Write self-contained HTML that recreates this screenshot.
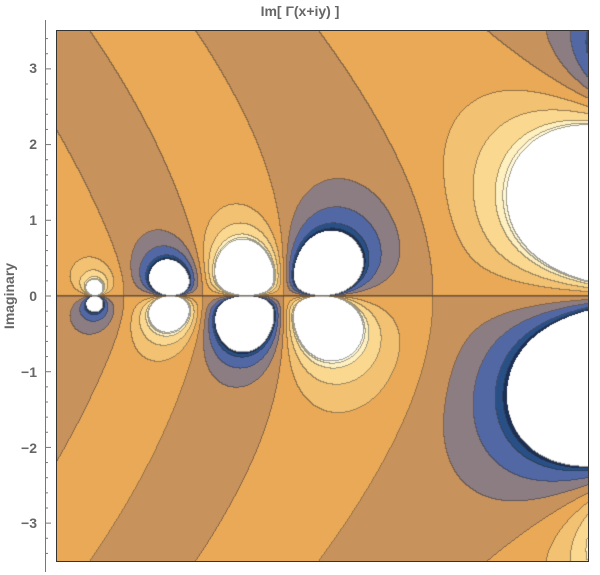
<!DOCTYPE html>
<html><head><meta charset="utf-8"><style>
body{margin:0;background:#fff;width:600px;height:575px;overflow:hidden;font-family:"Liberation Sans",sans-serif}
#c{position:absolute;left:57px;top:31px}
</style></head><body>
<canvas id="c" width="531" height="530"></canvas>
<svg width="600" height="575" style="position:absolute;left:0;top:0">
<rect x="56.5" y="30.5" width="532" height="531" fill="none" stroke="#333" stroke-width="1"/>
<line x1="45.5" y1="20" x2="45.5" y2="572" stroke="#777"/>
<g id="ticks" stroke="#777"></g>
<g fill="#666" font-size="14" font-weight="bold" font-family="Liberation Sans,sans-serif" text-anchor="end">
<text x="37" y="73">3</text><text x="37" y="149">2</text><text x="37" y="225">1</text><text x="37" y="301">0</text>
<text x="37" y="377">−1</text><text x="37" y="453">−2</text><text x="37" y="528">−3</text>
</g>
<text x="300" y="16" fill="#666" font-size="14" font-weight="bold" text-anchor="middle" font-family="Liberation Sans,sans-serif">Im[ Γ(x+iy) ]</text>
<text transform="translate(14,296) rotate(-90)" fill="#666" font-size="14" font-weight="bold" text-anchor="middle" font-family="Liberation Sans,sans-serif">Imaginary</text>
</svg>
<script>
(function(){
var g=document.getElementById('ticks'),s='';
for(var k=-17;k<=17;k++){var v=k*0.2,y=296-v*75.71;if(y<20||y>572)continue;var maj=Math.abs(v-Math.round(v))<1e-6;
s+='<line x1="45.5" x2="'+(maj?51:48)+'" y1="'+y+'" y2="'+y+'"/>';}
g.innerHTML=s;
var P=[0.99999999999980993,676.5203681218851,-1259.1392167224028,771.32342877765313,-176.61502916214059,12.507343278686905,-0.13857109526572012,9.9843695780195716e-6,1.5056327351493116e-7];
function mul(a,b){return[a[0]*b[0]-a[1]*b[1],a[0]*b[1]+a[1]*b[0]];}
function div(a,b){var d=b[0]*b[0]+b[1]*b[1];return[(a[0]*b[0]+a[1]*b[1])/d,(a[1]*b[0]-a[0]*b[1])/d];}
function cexp(a){var e=Math.exp(a[0]);return[e*Math.cos(a[1]),e*Math.sin(a[1])];}
function clog(a){return[Math.log(Math.hypot(a[0],a[1])),Math.atan2(a[1],a[0])];}
function gam(z){
 if(z[0]<0.5){var a=Math.PI*z[0],b=Math.PI*z[1];
  var sn=[Math.sin(a)*Math.cosh(b),Math.cos(a)*Math.sinh(b)];
  return div([Math.PI,0],mul(sn,gam([1-z[0],-z[1]])));}
 var zz=[z[0]-1,z[1]],x=[P[0],0];
 for(var i=1;i<9;i++){var q=div([P[i],0],[zz[0]+i,zz[1]]);x=[x[0]+q[0],x[1]+q[1]];}
 var t=[zz[0]+7.5,zz[1]];
 var r=cexp(mul([zz[0]+0.5,zz[1]],clog(t)));
 r=mul(r,cexp([-t[0],-t[1]]));r=mul(r,x);
 return[r[0]*Math.sqrt(2*Math.PI),r[1]*Math.sqrt(2*Math.PI)];}
var cols={'-6':[255,255,255],'-5':[26,47,90],'-4':[40,80,135],'-3':[82,104,165],'-2':[140,125,130],'-1':[200,146,92],
'0':[233,169,87],'1':[242,193,114],'2':[251,216,143],'3':[255,240,192],'4':[255,248,215],'5':[255,255,255]};
var TH=[-0.69,-0.65,-0.57,-0.38,-0.19,0,0.19,0.38,0.57,0.65,0.69];
function band(v){var k=0;while(k<TH.length&&v>=TH[k])k++;return k-6;}
var W=531,H=530,cv=document.getElementById('c'),ctx=cv.getContext('2d'),img=ctx.createImageData(W,H),d=img.data;
var B=new Int8Array(W*H);
for(var j=0;j<H;j++)for(var i=0;i<W;i++){
 var re=-3.5+(i+0.5)/W*7,im=3.5-(j+0.5)/H*7;
 var v=gam([re,im])[1];if(!isFinite(v))v=im>0?-9:9;
 B[j*W+i]=band(v);}
for(var j=0;j<H;j++)for(var i=0;i<W;i++){
 var b=B[j*W+i],c=cols[b],o=(j*W+i)*4,edge=false;
 if(i+1<W&&B[j*W+i+1]!=b)edge=true;if(j+1<H&&B[(j+1)*W+i]!=b)edge=true;
 var r=c[0],gg=c[1],bb=c[2];
 if(edge){r=r*0.55+20;gg=gg*0.55+20;bb=bb*0.55+20;}
 d[o]=r;d[o+1]=gg;d[o+2]=bb;d[o+3]=255;}
ctx.putImageData(img,0,0);
ctx.strokeStyle='rgba(60,50,40,0.8)';ctx.lineWidth=1;ctx.beginPath();ctx.moveTo(0,265);ctx.lineTo(W,265);ctx.stroke();
})();
</script>
</body></html>
